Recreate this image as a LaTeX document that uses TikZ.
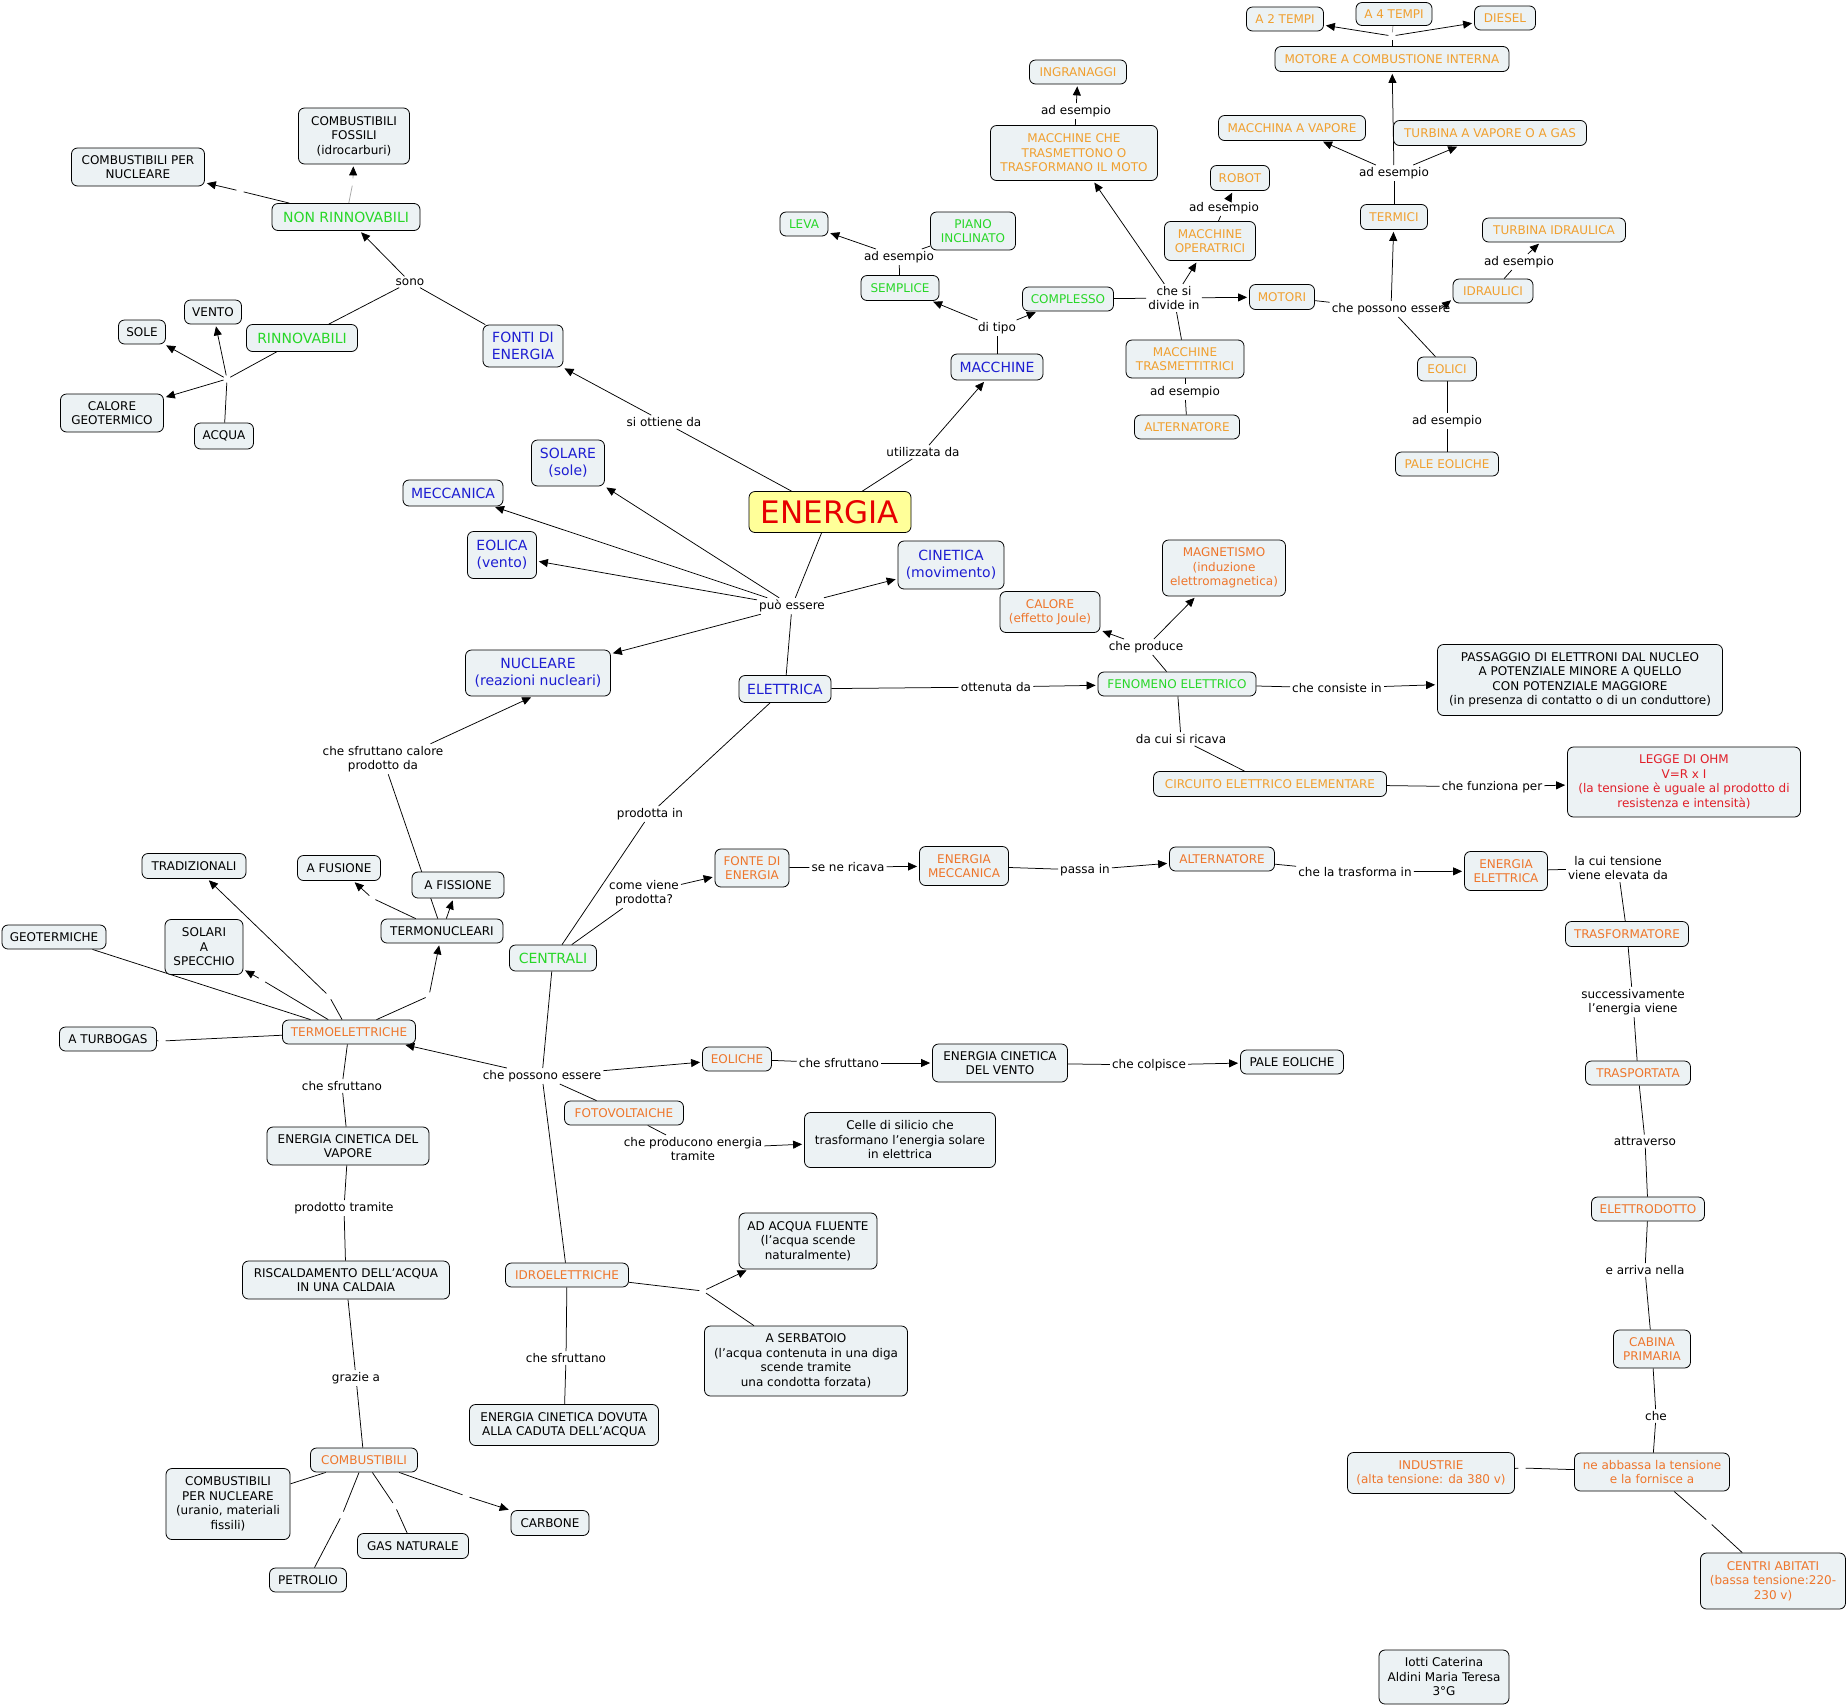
\documentclass[tikz,border=0pt]{standalone}
\usepackage{fontspec}
\setmainfont{DejaVu Sans}
\usetikzlibrary{arrows.meta}
\definecolor{boxfill}{RGB}{236,242,244}
\definecolor{enfill}{RGB}{255,255,153}
\definecolor{enred}{RGB}{230,0,0}
\definecolor{ohmred}{RGB}{225,30,40}
\definecolor{mygreen}{RGB}{40,215,40}
\definecolor{myblue}{RGB}{30,30,210}
\definecolor{orL}{RGB}{240,160,48}
\definecolor{orD}{RGB}{238,118,44}
\newcommand{\ftsA}{\fontsize{12}{14.5}\selectfont}
\newcommand{\ftsB}{\fontsize{14}{17}\selectfont}
\newcommand{\ftsC}{\fontsize{31}{36}\selectfont}
\pgfdeclarelayer{bg}
\pgfdeclarelayer{paper}
\pgfsetlayers{paper,bg,main}
\tikzset{
 bx/.style={draw=black, line width=0.8pt, rounded corners=6pt, fill=boxfill, inner sep=2pt, align=center, font=\ftsA, text=black},
 lb/.style={inner sep=2pt, align=center, font=\ftsA, text=black},
 hb/.style={circle, inner sep=0pt, minimum size=7pt},
 cn/.style={line width=0.75pt, draw=black},
 ar/.style={cn, -{Triangle[length=9pt,width=8pt,color=black]}, shorten >=2pt},
 sz/.style 2 args={minimum width=#1pt, minimum height=#2pt},
 gr/.style={text=mygreen},
 gb/.style={text=mygreen, font=\ftsB},
 bl/.style={text=myblue, font=\ftsB},
 ol/.style={text=orL},
 od/.style={text=orD}
}
\begin{document}
\begin{tikzpicture}[x=1pt,y=-1pt]
\begin{pgfonlayer}{paper}
\fill[white] (0,0) rectangle (1848,1706);
\end{pgfonlayer}
\useasboundingbox (0,0) rectangle (1848,1706);
% ---------- top left
\node[bx,sz={111}{56}] (cfos) at (354,136) {COMBUSTIBILI\\FOSSILI\\(idrocarburi)};
\node[bx,sz={133}{38}] (cpn) at (138,167) {COMBUSTIBILI PER\\NUCLEARE};
\node[bx,gb,sz={148}{27}] (nonrin) at (346,217) {NON RINNOVABILI};
\node[lb] (sono) at (410,282) {sono};
\node[bx,gb,sz={111}{27}] (rin) at (302,338) {RINNOVABILI};
\node[bx,sz={57}{24}] (vento) at (213,312) {VENTO};
\node[bx,sz={47}{24}] (sole) at (142,332) {SOLE};
\node[bx,sz={103}{38}] (calgeo) at (112,413) {CALORE\\GEOTERMICO};
\node[bx,sz={59}{26}] (acqua) at (224,436) {ACQUA};
\node[hb] (hR) at (227,379) {};
\node[hb] (hN1) at (240,191) {};
\node[hb] (hN2) at (353,182) {};
\node[bx,bl,sz={80}{42}] (fonti) at (523,346) {FONTI DI\\ENERGIA};
\node[lb] (siott) at (664,422) {si ottiene da};
\node[bx,bl,sz={73}{46}] (solare) at (568,463) {SOLARE\\(sole)};
\node[bx,bl,sz={100}{26}] (mecc) at (453,493) {MECCANICA};
\node[bx,bl,sz={69}{47}] (eolica) at (502,555) {EOLICA\\(vento)};
\node[bx,sz={162}{41},fill=enfill,text=enred,font=\ftsC,inner sep=1pt] (energia) at (830,512) {ENERGIA};
% ---------- machines
\node[lb] (utilizz) at (923,452) {utilizzata da};
\node[bx,bl,sz={92}{26}] (macchine) at (997,367) {MACCHINE};
\node[lb] (ditipo) at (997,328) {di tipo};
\node[bx,gr,sz={78}{25}] (semplice) at (900,288) {SEMPLICE};
\node[lb] (adesS) at (899,257) {ad esempio};
\node[bx,gr,sz={48}{24}] (leva) at (804,224) {LEVA};
\node[bx,gr,sz={85}{38}] (piano) at (973,231) {PIANO\\INCLINATO};
\node[bx,gr,sz={91}{24}] (complesso) at (1068,299) {COMPLESSO};
\node[lb] (chesi) at (1174,298) {che si\\divide in};
\node[bx,ol,sz={167}{55}] (mct) at (1074,153) {MACCHINE CHE\\TRASMETTONO O\\TRASFORMANO IL MOTO};
\node[lb] (adesI) at (1076,111) {ad esempio};
\node[bx,ol,sz={97}{24}] (ingr) at (1078,72) {INGRANAGGI};
\node[bx,ol,sz={91}{39}] (mop) at (1210,241) {MACCHINE\\OPERATRICI};
\node[lb] (adesR) at (1224,208) {ad esempio};
\node[bx,ol,sz={59}{25}] (robot) at (1240,178) {ROBOT};
\node[bx,ol,sz={65}{25}] (motori) at (1282,297) {MOTORI};
\node[bx,ol,sz={118}{38}] (mtr) at (1185,359) {MACCHINE\\TRASMETTITRICI};
\node[lb] (adesA) at (1185,392) {ad esempio};
\node[bx,ol,sz={105}{24}] (altT) at (1187,427) {ALTERNATORE};
\node[lb] (chepos) at (1391,309) {che possono essere};
\node[bx,ol,sz={67}{25}] (termici) at (1394,217) {TERMICI};
\node[lb] (adesT) at (1394,173) {ad esempio};
\node[bx,ol,sz={147}{25}] (mvap) at (1292,128) {MACCHINA A VAPORE};
\node[bx,ol,sz={193}{25}] (turbv) at (1490,133) {TURBINA A VAPORE O A GAS};
\node[bx,ol,sz={234}{25}] (mci) at (1392,59) {MOTORE A COMBUSTIONE INTERNA};
\node[bx,ol,sz={77}{24}] (a2) at (1285,19) {A 2 TEMPI};
\node[bx,ol,sz={76}{23}] (a4) at (1394,14) {A 4 TEMPI};
\node[bx,ol,sz={61}{24}] (diesel) at (1505,18) {DIESEL};
\node[hb] (hM) at (1392,36) {};
\node[bx,ol,sz={80}{24}] (idraul) at (1493,291) {IDRAULICI};
\node[lb] (adesTI) at (1519,262) {ad esempio};
\node[bx,ol,sz={143}{24}] (turbi) at (1554,230) {TURBINA IDRAULICA};
\node[bx,ol,sz={59}{24}] (eolici) at (1447,369) {EOLICI};
\node[lb] (adesE) at (1447,421) {ad esempio};
\node[bx,ol,sz={103}{24}] (paleT) at (1447,464) {PALE EOLICHE};
% ---------- middle
\node[lb] (puo) at (792,606) {può essere};
\node[bx,bl,sz={106}{48}] (cinetica) at (951,565) {CINETICA\\(movimento)};
\node[bx,bl,sz={145}{46}] (nucleare) at (538,673) {NUCLEARE\\(reazioni nucleari)};
\node[bx,bl,sz={92}{27}] (elettrica) at (785,689) {ELETTRICA};
\node[bx,od,sz={123}{56}] (magn) at (1224,568) {MAGNETISMO\\(induzione\\elettromagnetica)};
\node[bx,od,sz={100}{41}] (calore) at (1050,612) {CALORE\\(effetto Joule)};
\node[lb] (cheprod) at (1146,647) {che produce};
\node[bx,gr,sz={158}{24}] (fenom) at (1177,684) {FENOMENO ELETTRICO};
\node[lb] (ottenuta) at (996,687) {ottenuta da};
\node[lb] (checons) at (1337,688) {che consiste in};
\node[bx,sz={285}{71}] (passaggio) at (1580,680) {PASSAGGIO DI ELETTRONI DAL NUCLEO\\A POTENZIALE MINORE A QUELLO\\CON POTENZIALE MAGGIORE\\(in presenza di contatto o di un conduttore)};
\node[lb] (dacui) at (1181,739) {da cui si ricava};
\node[bx,ol,sz={233}{25}] (circ) at (1270,784) {CIRCUITO ELETTRICO ELEMENTARE};
\node[lb] (chefunz) at (1492,787) {che funziona per};
\node[bx,sz={233}{70},text=ohmred] (ohm) at (1684,782) {LEGGE DI OHM\\V=R x I\\(la tensione è uguale al prodotto di\\resistenza e intensità)};
\node[lb] (prodin) at (650,814) {prodotta in};
\node[lb] (comeviene) at (644,893) {come viene\\prodotta?};
\node[bx,od,sz={74}{38}] (fonte) at (752,868) {FONTE DI\\ENERGIA};
\node[lb] (seneric) at (848,867) {se ne ricava};
\node[bx,od,sz={89}{39}] (emecc) at (964,866) {ENERGIA\\MECCANICA};
\node[lb] (passain) at (1085,870) {passa in};
\node[bx,od,sz={105}{24}] (altM) at (1222,859) {ALTERNATORE};
\node[lb] (chelatr) at (1355,872) {che la trasforma in};
\node[bx,od,sz={83}{39}] (eelet) at (1506,871) {ENERGIA\\ELETTRICA};
\node[lb] (lacui) at (1618,868) {la cui tensione\\viene elevata da};
\node[bx,od,sz={123}{25}] (trasf) at (1627,934) {TRASFORMATORE};
\node[lb] (success) at (1633,1002) {successivamente\\l'energia viene};
\node[bx,od,sz={105}{24}] (trasp) at (1638,1073) {TRASPORTATA};
\node[lb] (attrav) at (1645,1141) {attraverso};
\node[bx,od,sz={113}{24}] (elettrod) at (1648,1209) {ELETTRODOTTO};
\node[lb] (earriva) at (1645,1270) {e arriva nella};
\node[bx,od,sz={77}{38}] (cabina) at (1652,1349) {CABINA\\PRIMARIA};
\node[lb] (che) at (1656,1416) {che};
\node[bx,od,sz={155}{38}] (neabb) at (1652,1472) {ne abbassa la tensione\\e la fornisce a};
\node[bx,od,sz={167}{41}] (industrie) at (1431,1473) {INDUSTRIE\\(alta tensione: da 380 v)};
\node[hb] (hI) at (1522,1468) {};
\node[hb] (hC) at (1709,1522) {};
\node[bx,od,sz={145}{56}] (centri) at (1773,1581) {CENTRI ABITATI\\(bassa tensione:220-\\230 v)};
\node[bx,sz={130}{54}] (iotti) at (1444,1677) {Iotti Caterina\\Aldini Maria Teresa\\3°G};
% ---------- lower left
\node[bx,gb,sz={87}{26}] (centrali) at (553,958) {CENTRALI};
\node[lb] (chepos2) at (542,1076) {che possono essere};
\node[bx,od,sz={133}{24}] (termo) at (349,1032) {TERMOELETTRICHE};
\node[bx,od,sz={69}{24}] (eoliche) at (737,1059) {EOLICHE};
\node[lb] (chesfrE) at (839,1063) {che sfruttano};
\node[bx,sz={135}{38}] (ecv) at (1000,1063) {ENERGIA CINETICA\\DEL VENTO};
\node[lb] (checolp) at (1149,1065) {che colpisce};
\node[bx,sz={103}{24}] (paleB) at (1292,1062) {PALE EOLICHE};
\node[bx,od,sz={119}{24}] (fotov) at (624,1113) {FOTOVOLTAICHE};
\node[lb] (cheprodE) at (693,1149) {che producono energia\\tramite};
\node[bx,sz={191}{55}] (celle) at (900,1140) {Celle di silicio che\\trasformano l'energia solare\\in elettrica};
\node[bx,od,sz={123}{24}] (idro) at (567,1275) {IDROELETTRICHE};
\node[hb] (hH) at (703,1291) {};
\node[bx,sz={138}{56}] (fluente) at (808,1241) {AD ACQUA FLUENTE\\(l'acqua scende\\naturalmente)};
\node[bx,sz={203}{70}] (serb) at (806,1361) {A SERBATOIO\\(l'acqua contenuta in una diga\\scende tramite\\una condotta forzata)};
\node[lb] (chesfrI) at (566,1358) {che sfruttano};
\node[bx,sz={189}{41}] (ecdov) at (564,1425) {ENERGIA CINETICA DOVUTA\\ALLA CADUTA DELL'ACQUA};
\node[lb] (chesfrT) at (342,1086) {che sfruttano};
\node[bx,sz={162}{38}] (ecvap) at (348,1146) {ENERGIA CINETICA DEL\\VAPORE};
\node[lb] (prodtr) at (344,1208) {prodotto tramite};
\node[bx,sz={207}{38}] (risc) at (346,1280) {RISCALDAMENTO DELL'ACQUA\\IN UNA CALDAIA};
\node[lb] (grazie) at (356,1378) {grazie a};
\node[bx,od,sz={107}{24}] (comb) at (364,1460) {COMBUSTIBILI};
\node[bx,sz={124}{71}] (cpn2) at (228,1504) {COMBUSTIBILI\\PER NUCLEARE\\(uranio, materiali\\fissili)};
\node[bx,sz={77}{24}] (petrolio) at (308,1580) {PETROLIO};
\node[bx,sz={111}{25}] (gas) at (413,1546) {GAS NATURALE};
\node[bx,sz={78}{25}] (carbone) at (550,1523) {CARBONE};
\node[hb] (hP) at (342,1515) {};
\node[hb] (hG) at (395,1506) {};
\node[hb] (hCa) at (466,1496) {};
\node[bx,sz={122}{24}] (termon) at (442,931) {TERMONUCLEARI};
\node[bx,sz={92}{26}] (fiss) at (458,885) {A FISSIONE};
\node[bx,sz={83}{25}] (fus) at (339,868) {A FUSIONE};
\node[bx,sz={104}{25}] (trad) at (194,866) {TRADIZIONALI};
\node[bx,sz={78}{55}] (solspec) at (204,947) {SOLARI\\A\\SPECCHIO};
\node[bx,sz={104}{24}] (geot) at (54,937) {GEOTERMICHE};
\node[bx,sz={97}{24}] (turbog) at (108,1039) {A TURBOGAS};
\node[lb] (chesfrC) at (383,759) {che sfruttano calore\\prodotto da};
\node[hb] (hTN) at (429,996) {};
\node[hb] (hTR) at (329,996) {};
\node[hb] (hSS) at (262,980) {};
\node[hb] (hTG) at (162,1041) {};
\node[hb] (hFu) at (372,898) {};
% ---------- connectors
\begin{pgfonlayer}{bg}
\draw[cn] (fonti) -- (sono);
\draw[cn] (rin) -- (sono);
\draw[ar] (sono) -- (nonrin);
\draw[cn] (nonrin) -- (hN1); \draw[ar] (hN1) -- (cpn);
\draw[cn,draw=black!35] (nonrin) -- (hN2); \draw[ar,draw=black!35] (hN2) -- (cfos);
\draw[cn] (rin) -- (hR);
\draw[ar] (hR) -- (sole); \draw[ar] (hR) -- (vento); \draw[ar] (hR) -- (calgeo); \draw[cn] (hR) -- (acqua);
\draw[cn] (energia) -- (siott); \draw[ar] (siott) -- (fonti);
\draw[cn] (energia) -- (utilizz); \draw[ar] (utilizz) -- (macchine);
\draw[cn] (macchine) -- (ditipo); \draw[ar] (ditipo) -- (semplice); \draw[ar] (ditipo) -- (complesso);
\draw[cn] (semplice) -- (adesS); \draw[ar] (adesS) -- (leva); \draw[cn] (adesS) -- (piano);
\draw[cn] (complesso) -- (chesi);
\draw[ar] (chesi) -- (mct); \draw[ar] (chesi) -- (mop); \draw[ar] (chesi) -- (motori); \draw[cn] (chesi) -- (mtr);
\draw[cn] (mtr) -- (adesA); \draw[cn] (adesA) -- (altT);
\draw[cn] (mct) -- (adesI); \draw[ar] (adesI) -- (ingr);
\draw[cn] (mop) -- (adesR); \draw[ar] (adesR) -- (robot);
\draw[cn] (motori) -- (chepos); \draw[ar] (chepos) -- (termici);
\draw[ar] ([xshift=-12pt]chepos.east) -- ([yshift=-8pt]idraul.west);
\draw[cn] (chepos) -- (eolici);
\draw[cn] (eolici) -- (adesE); \draw[cn] (adesE) -- (paleT);
\draw[cn] (idraul) -- (adesTI); \draw[ar] (adesTI) -- (turbi);
\draw[cn] (termici) -- (adesT);
\draw[ar] (adesT) -- (mvap); \draw[ar] (adesT) -- (turbv); \draw[ar] (adesT) -- (mci);
\draw[cn] (mci) -- (hM); \draw[ar] (hM) -- (a2); \draw[ar] (hM) -- (diesel); \draw[cn,draw=black!40] (hM) -- (a4);
\draw[cn] (energia) -- (puo);
\draw[ar] (puo) -- (mecc); \draw[ar] (puo) -- (solare); \draw[ar] (puo) -- (eolica);
\draw[ar] (puo) -- (nucleare); \draw[ar] (puo) -- (cinetica); \draw[cn] (puo) -- (elettrica);
\draw[cn] (elettrica) -- (ottenuta); \draw[ar] (ottenuta) -- (fenom);
\draw[cn] (fenom) -- (cheprod); \draw[ar] (cheprod) -- (calore); \draw[ar] (cheprod) -- (magn);
\draw[cn] (fenom) -- (checons); \draw[ar] (checons) -- (passaggio);
\draw[cn] (fenom) -- (dacui); \draw[cn] (dacui) -- (circ);
\draw[cn] (circ) -- (chefunz); \draw[ar] (chefunz) -- (ohm);
\draw[cn] (elettrica) -- (prodin); \draw[cn] (prodin) -- (centrali);
\draw[cn] (centrali) -- (comeviene); \draw[ar] (comeviene) -- (fonte);
\draw[cn] (fonte) -- (seneric); \draw[ar] (seneric) -- (emecc);
\draw[cn] (emecc) -- (passain); \draw[ar] (passain) -- (altM);
\draw[cn] (altM) -- (chelatr); \draw[ar] (chelatr) -- (eelet);
\draw[cn] (eelet) -- (lacui); \draw[cn] (lacui) -- (trasf);
\draw[cn] (trasf) -- (success); \draw[cn] (success) -- (trasp);
\draw[cn] (trasp) -- (attrav); \draw[cn] (attrav) -- (elettrod);
\draw[cn] (elettrod) -- (earriva); \draw[cn] (earriva) -- (cabina);
\draw[cn] (cabina) -- (che); \draw[cn] (che) -- (neabb);
\draw[cn] (neabb) -- (hI); \draw[cn] (hI) -- (industrie);
\draw[cn] (neabb) -- (hC); \draw[cn] (hC) -- (centri);
\draw[cn] (centrali) -- (chepos2);
\draw[ar] (chepos2) -- (termo); \draw[ar] (chepos2) -- (eoliche);
\draw[cn] (chepos2) -- (fotov); \draw[cn] (chepos2) -- (idro);
\draw[cn] (eoliche) -- (chesfrE); \draw[ar] (chesfrE) -- (ecv);
\draw[cn] (ecv) -- (checolp); \draw[ar] (checolp) -- (paleB);
\draw[cn] (fotov) -- (cheprodE); \draw[ar] (cheprodE) -- (celle);
\draw[cn] (idro) -- (hH); \draw[ar] (hH) -- (fluente); \draw[cn] (hH) -- (serb);
\draw[cn] (idro) -- (chesfrI); \draw[cn] (chesfrI) -- (ecdov);
\draw[cn] (termo) -- (chesfrT); \draw[cn] (chesfrT) -- (ecvap);
\draw[cn] (ecvap) -- (prodtr); \draw[cn] (prodtr) -- (risc);
\draw[cn] (risc) -- (grazie); \draw[cn] (grazie) -- (comb);
\draw[cn] (comb) -- (cpn2);
\draw[cn] (comb) -- (hP); \draw[cn] (hP) -- (petrolio);
\draw[cn] (comb) -- (hG); \draw[cn] (hG) -- (gas);
\draw[cn] (comb) -- (hCa); \draw[ar] (hCa) -- (carbone);
\draw[cn] (termo) -- (hTN); \draw[ar] (hTN) -- (termon);
\draw[cn] (termo) -- (hTR); \draw[ar] (hTR) -- (trad);
\draw[cn] (termo) -- (hSS); \draw[ar] (hSS) -- (solspec);
\draw[cn] (termo) -- (geot);
\draw[cn] (termo) -- (hTG); \draw[cn] (hTG) -- (turbog);
\draw[cn] (termon) -- (hFu); \draw[ar] (hFu) -- (fus);
\draw[ar] (termon) -- (fiss);
\draw[cn] (termon) -- (chesfrC);
\draw[ar] ([xshift=-15pt]chesfrC.north east) -- ([xshift=-5pt]nucleare.south);
\end{pgfonlayer}
\end{tikzpicture}
\end{document}
